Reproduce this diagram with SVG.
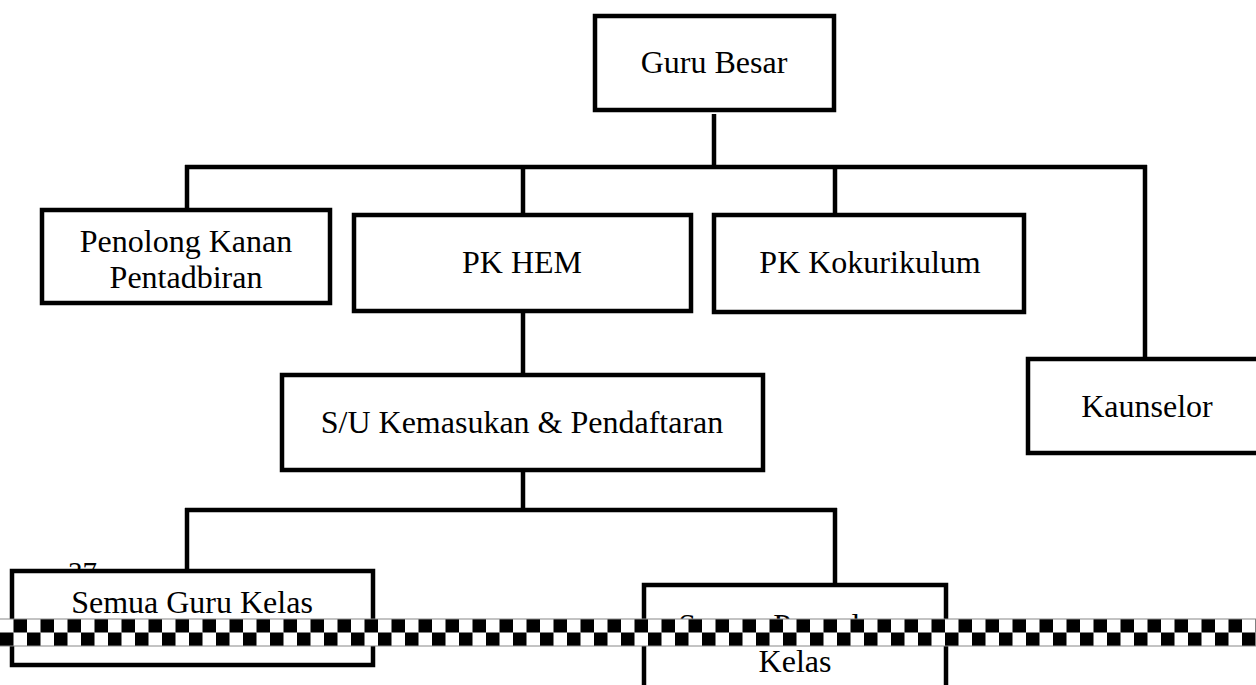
<svg xmlns="http://www.w3.org/2000/svg" width="1256" height="685" viewBox="0 0 1256 685">
<style>
.box{fill:#fff;stroke:#000;stroke-width:4.5}
.lbl{font-family:"Liberation Serif","Times New Roman",serif;font-size:32px;fill:#000;text-anchor:middle}
.con{stroke:#000;stroke-width:4.5;fill:none}
</style>
<defs>
<pattern id="chk" patternUnits="userSpaceOnUse" x="0" y="619" width="27" height="27">
<rect width="27" height="27" fill="#fff"/>
<rect x="13.5" y="0" width="13.5" height="13.5" fill="#000"/>
<rect x="0" y="13.5" width="13.5" height="13.5" fill="#000"/>
</pattern>
</defs>
<rect width="1256" height="685" fill="#fff"/>
<text x="68" y="582" font-family="Liberation Serif, serif" font-size="29" fill="#000">37</text>
<g id="connectors">
<line class="con" x1="714" y1="114" x2="714" y2="167"/>
<line class="con" x1="185" y1="167" x2="1147" y2="167"/>
<line class="con" x1="187" y1="165" x2="187" y2="210"/>
<line class="con" x1="523" y1="167" x2="523" y2="215"/>
<line class="con" x1="835" y1="167" x2="835" y2="215"/>
<line class="con" x1="1145" y1="165" x2="1145" y2="359"/>
<line class="con" x1="523" y1="311" x2="523" y2="375"/>
<line class="con" x1="523" y1="470" x2="523" y2="510"/>
<line class="con" x1="185" y1="510" x2="837" y2="510"/>
<line class="con" x1="187" y1="508" x2="187" y2="571"/>
<line class="con" x1="835" y1="508" x2="835" y2="585"/>
</g>
<g id="guru-besar"><rect class="box" x="595" y="16" width="239" height="94"/><text class="lbl" x="714" y="73">Guru Besar</text></g>
<g id="penolong-kanan"><rect class="box" x="42" y="210" width="288" height="93"/><text class="lbl" x="186" y="252">Penolong Kanan</text><text class="lbl" x="186" y="288">Pentadbiran</text></g>
<g id="pk-hem"><rect class="box" x="354" y="215" width="337" height="96"/><text class="lbl" x="522" y="273">PK HEM</text></g>
<g id="pk-kokurikulum"><rect class="box" x="714" y="215" width="310" height="97"/><text class="lbl" x="870" y="273">PK Kokurikulum</text></g>
<g id="kaunselor"><rect class="box" x="1028" y="359" width="240" height="94"/><text class="lbl" x="1147" y="417">Kaunselor</text></g>
<g id="su-kemasukan"><rect class="box" x="282" y="375" width="481" height="95"/><text class="lbl" x="522" y="433">S/U Kemasukan &amp; Pendaftaran</text></g>
<g id="semua-guru-kelas"><rect class="box" x="12" y="571" width="361" height="94"/><text class="lbl" x="192" y="613">Semua Guru Kelas</text></g>
<g id="semua-penyelaras-kelas"><rect class="box" x="644" y="585" width="302" height="120"/><text class="lbl" x="795" y="636">Semua Penyelaras</text><text class="lbl" x="795" y="672">Kelas</text></g>
<rect x="-1" y="619" width="1258" height="27" fill="url(#chk)" stroke="#888" stroke-width="1"/>
</svg>
